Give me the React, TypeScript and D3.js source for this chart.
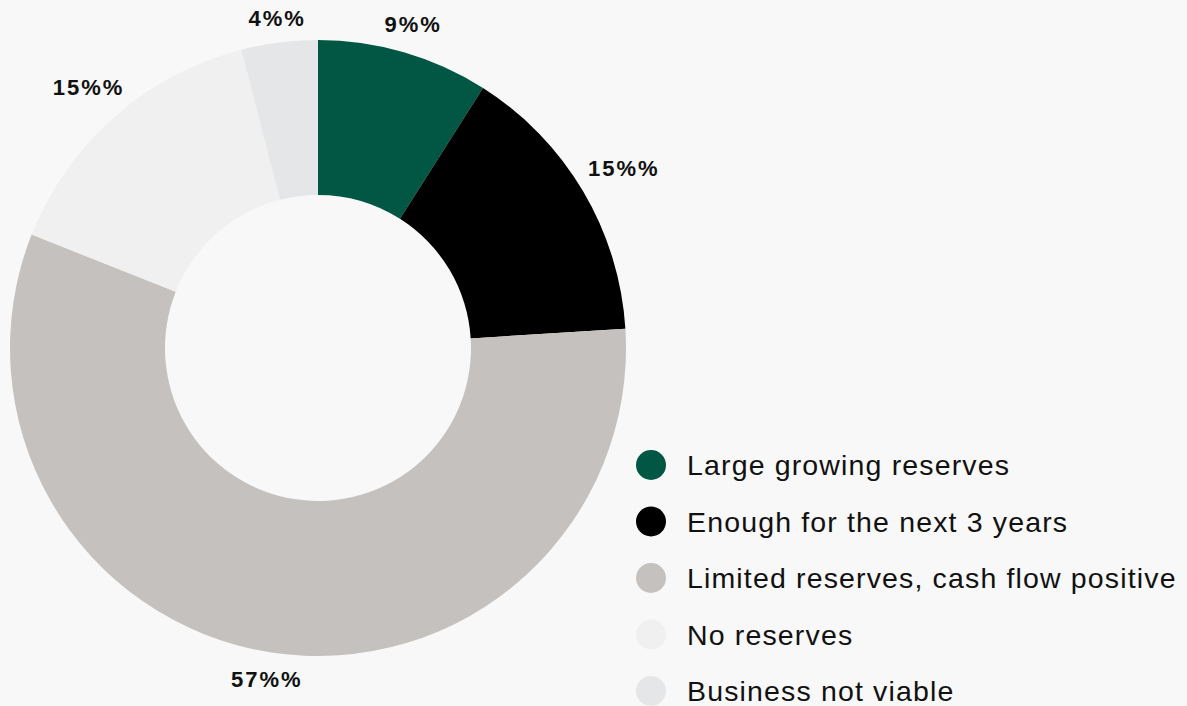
import React from "react";
import * as d3 from "d3";

const categories = [
  "Large growing reserves",
  "Enough for the next 3 years",
  "Limited reserves, cash flow positive",
  "No reserves",
  "Business not viable",
];
const values = [9, 15, 57, 15, 4];
const colors = ["#015744", "#000000", "#c5c1be", "#eff0ef", "#e5e6e7"];

const W = 1187;
const H = 706;
const cx = 318;
const cy = 348;
const R = 308;
const r0 = 153;

export default function App() {
  const pie = d3.pie<number>().sort(null).value((d) => d)(values);
  const arc = d3.arc<d3.PieArcDatum<number>>().innerRadius(r0).outerRadius(R);
  const legendY = d3.scalePoint<string>().domain(categories).range([465, 691]);
  return (
    <svg
      width={W}
      height={H}
      style={{ position: "absolute", left: 0, top: 0, display: "block" }}
    >
      <rect width={W} height={H} fill="#f8f8f8" />
      <g transform={`translate(${cx},${cy})`}>
        {pie.map((p, i) => (
          <path key={i} d={arc(p) || ""} fill={colors[i]} />
        ))}
        {pie.map((p, i) => {
          const a = (p.startAngle + p.endAngle) / 2;
          const lr = 330 + 28 * Math.abs(Math.sin(a));
          const x = lr * Math.sin(a);
          const y = -lr * Math.cos(a);
          return (
            <text
              key={i}
              x={x + 1}
              y={y + 1}
              textAnchor="middle"
              dominantBaseline="central"
              fontFamily="Liberation Sans, Arial, sans-serif"
              fontWeight="bold"
              fontSize={22}
              letterSpacing={2}
              fill="#111"
            >
              {`${p.data}%%`}
            </text>
          );
        })}
      </g>
      {categories.map((c, i) => (
        <g key={c} transform={`translate(0,${legendY(c)})`}>
          <circle cx={651} cy={0} r={15} fill={colors[i]} />
          <text
            x={687}
            y={0}
            dominantBaseline="central"
            fontFamily="Liberation Sans, Arial, sans-serif"
            fontSize={28.5}
            letterSpacing={1.15}
            fill="#111"
          >
            {c}
          </text>
        </g>
      ))}
    </svg>
  );
}
